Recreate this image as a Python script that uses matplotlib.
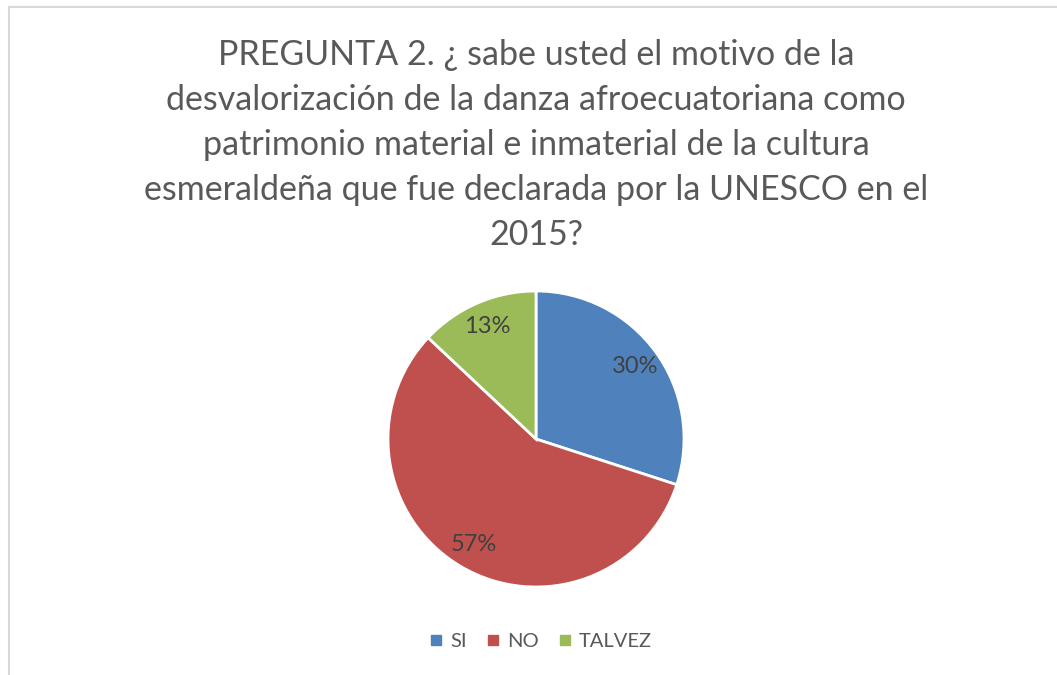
import matplotlib
matplotlib.use("Agg")
import matplotlib.pyplot as plt
from matplotlib.patches import Rectangle
from matplotlib.lines import Line2D

categories = ["SI", "NO", "TALVEZ"]
values = [30, 57, 13]
colors = ["#4F81BD", "#C0504D", "#9BBB59"]
title_lines = [
    "PREGUNTA 2. ¿ sabe usted el motivo de la",
    "desvalorización de la danza afroecuatoriana como",
    "patrimonio material e inmaterial de la cultura",
    "esmeraldeña que fue declarada por la UNESCO en el",
    "2015?",
]

W, H = 1057, 675
DPI = 100
fig = plt.figure(figsize=(W / DPI, H / DPI), dpi=DPI)
fig.patch.set_facecolor("white")
font = "Lato"
txtc = "#595959"

# border
fig.add_artist(Rectangle((9 / W, -0.1), 1.2, 1 - 7.5 / H + 0.1, transform=fig.transFigure,
                         fill=False, edgecolor="#D9D9D9", linewidth=1.5))

# title
ys = [55, 100, 145, 190, 235]
for line, y in zip(title_lines, ys):
    fig.text(536 / W, 1 - y / H, line, ha="center", va="center", fontsize=24.5,
             color=txtc, family=font)

cx, cy, r = 536, 439, 148
ax = fig.add_axes([(cx - r) / W, 1 - (cy + r) / H, 2 * r / W, 2 * r / H])
wedges, texts, autotexts = ax.pie(values, colors=colors, startangle=90, counterclock=False,
                                  autopct="%1.0f%%", pctdistance=0.83,
                                  wedgeprops=dict(edgecolor="white", linewidth=2))
for t in autotexts:
    t.set_fontsize(17)
    t.set_color("#404040")
    t.set_family(font)
ax.set_xlim(-1, 1)
ax.set_ylim(-1, 1)
ax.set_aspect("equal")
ax.axis("off")

handles = [Line2D([], [], marker="s", linestyle="none", markersize=7, color=c) for c in colors]
fig.legend(handles, categories, loc="center", bbox_to_anchor=(539 / W, 1 - 641 / H),
           ncol=3, frameon=False, handletextpad=0.2, columnspacing=0.8,
           handlelength=1.0, labelcolor=txtc, prop={"family": font, "size": 14.5})

fig.savefig("out.png", dpi=DPI)
